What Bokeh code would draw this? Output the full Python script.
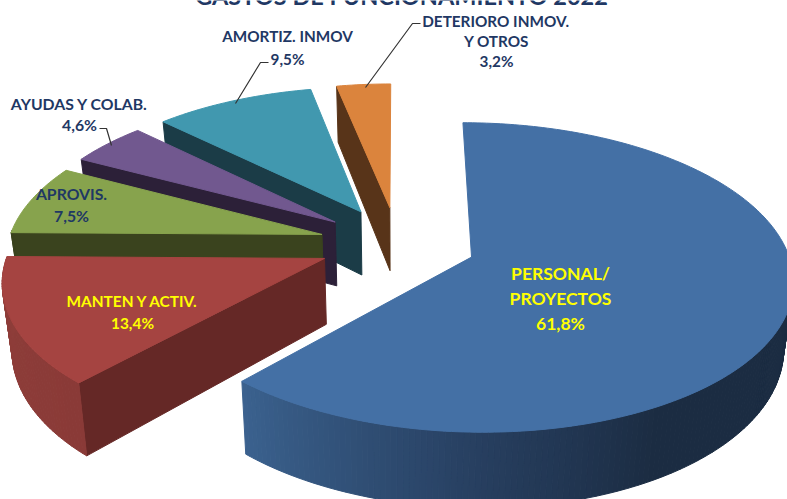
import numpy as np
from bokeh.plotting import figure
from bokeh.models import ColumnDataSource, Range1d
from bokeh.core.properties import value
from bokeh.embed import file_html
from bokeh.resources import INLINE

# ---- data
CATEGORIES = ["PERSONAL/ PROYECTOS", "MANTEN Y ACTIV.", "APROVIS.", "AYUDAS Y COLAB.", "AMORTIZ. INMOV", "DETERIORO INMOV. Y OTROS"]
VALUES = [61.8, 13.4, 7.5, 4.6, 9.5, 3.2]
TOP_COLOURS = ["#4470a5", "#a54441", "#87a34d", "#71588f", "#4198af", "#db843d"]
WALL_COLOURS = ["#2c4868", "#652826", "#3a431e", "#2c2038", "#1b3c47", "#583419"]
ARC_STOPS = [
    [(0.0, "#1b2c42"), (0.674, "#1b2c42"), (0.809, "#273f60"), (1.0, "#3b628f")],
    [(0.0, "#8a3a37"), (1.0, "#8f3e3a")],
    [(0.0, "#3a431e"), (1.0, "#3a431e")],
    [(0.0, "#2c2038"), (1.0, "#2c2038")],
    [(0.0, "#1b3c47"), (1.0, "#1b3c47")],
    [(0.0, "#583419"), (1.0, "#583419")],
]
TITLE = "GASTOS DE FUNCIONAMIENTO 2022"
LABEL_TEXT = ["DETERIORO  INMOV.", "Y OTROS", "3,2%", "AMORTIZ. INMOV", "9,5%", "AYUDAS Y COLAB.", "4,6%",
              "APROVIS.", "7,5%", "MANTEN Y ACTIV.", "13,4%", "PERSONAL/", "PROYECTOS", "61,8%"]
LABEL_X = [497, 496, 496, 287, 287, 79, 79, 71, 71, 132, 132, 560, 560, 560]
LABEL_Y = [20, 40, 60, 35, 58, 103, 124, 193, 215, 300, 322, 273, 298, 323]
LABEL_COL = ["#1f3864"] * 9 + ["#ffff00"] * 5
LABEL_SIZE = ["15.3px"] * 5 + ["15.8px"] * 2 + ["15.8px"] * 2 + ["15.4px"] * 2 + ["17.5px"] * 3
LEAD_X = [[235, 260, 268], [365, 412, 420], [111, 106, 99]]
LEAD_Y = [[103, 62, 62], [87, 23, 23], [145, 128, 128]]

# ---- pseudo-3D projection of the pie
CX, CY, A, B, K, H, EXPLODE = 397.0, 243.0, 314.0, 148.5, 0.13, 65.0, 0.25
SHRINK = 0.975

def project(X, Y, bottom=False):
    w = 1 + K * Y
    sx = CX + A * X / w
    sy = CY - B * Y / w
    if bottom:
        sx = CX + (sx - CX) * SHRINK
        sy = sy + H / w
    return sx, sy

def shade(stops, t):
    pos = [s[0] for s in stops]
    rgb = [[int(s[1][i:i + 2], 16) for s in stops] for i in (1, 3, 5)]
    return "#%02x%02x%02x" % tuple(int(round(np.interp(t, pos, ch))) for ch in rgb)

xs, ys, cols = [], [], []

def add(px, py, c):
    xs.append(list(px)); ys.append(list(py)); cols.append(c)

edges = np.concatenate([[0], np.cumsum(VALUES)]) / sum(VALUES) * 2 * np.pi
# painter's order: from the back (last slice) to the front (first slice)
for i in [5, 4, 3, 2, 1, 0]:
    t1, t2 = edges[i], edges[i + 1]
    mid = (t1 + t2) / 2
    ox, oy = EXPLODE * np.sin(mid), EXPLODE * np.cos(mid)
    tt = np.linspace(t1, t2, max(int((t2 - t1) * 60), 6))
    X = ox + np.sin(tt); Y = oy + np.cos(tt)
    # start radial wall
    if np.sin(t1) < -1e-6:
        ax, ay = project(ox, oy); ex, ey = project(ox + np.sin(t1), oy + np.cos(t1))
        bx, by = project(ox, oy, True); fx, fy = project(ox + np.sin(t1), oy + np.cos(t1), True)
        add([ax, ex, fx, bx], [ay, ey, fy, by], WALL_COLOURS[i])
    # outer wall as shaded facets
    for j in range(len(tt) - 1):
        if np.cos(tt[j]) > 0.03 and np.cos(tt[j + 1]) > 0.03:
            continue
        s1x, s1y = project(X[j], Y[j]); s2x, s2y = project(X[j + 1], Y[j + 1])
        b1x, b1y = project(X[j], Y[j], True); b2x, b2y = project(X[j + 1], Y[j + 1], True)
        t = (tt[j] - t1) / (t2 - t1)
        add([s1x, s2x, b2x, b1x], [s1y, s2y, b2y, b1y], shade(ARC_STOPS[i], t))
    # top
    sx, sy = project(np.concatenate([[ox], X]), np.concatenate([[oy], Y]))
    add(sx, sy, TOP_COLOURS[i])

p = figure(width=787, height=499, output_backend="svg", toolbar_location=None,
           x_range=Range1d(0, 787), y_range=Range1d(499, 0), min_border=0,
           outline_line_color=None, background_fill_color="white")
p.margin = (0, 0, 0, 0)
p.xaxis.visible = False
p.yaxis.visible = False
p.grid.visible = False

p.patches("x", "y", fill_color="c", line_color="c", line_width=1.0,
          source=ColumnDataSource(dict(x=xs, y=ys, c=cols)))
p.multi_line(LEAD_X, LEAD_Y, line_color="#333333", line_width=1.2)
p.text(x=[401], y=[-5], text=[TITLE], text_font=value("Lato"), text_font_style="bold",
       text_font_size="23.5px", text_color="#1f3864", text_align="center", text_baseline="alphabetic")
p.text("x", "y", "t", text_font=value("Lato"), text_font_style="bold", text_font_size="s", text_color="c",
       text_align="center", text_baseline="middle",
       source=ColumnDataSource(dict(x=LABEL_X, y=LABEL_Y, t=LABEL_TEXT, c=LABEL_COL, s=LABEL_SIZE)))

open("out.html", "w").write(file_html(p, INLINE))
